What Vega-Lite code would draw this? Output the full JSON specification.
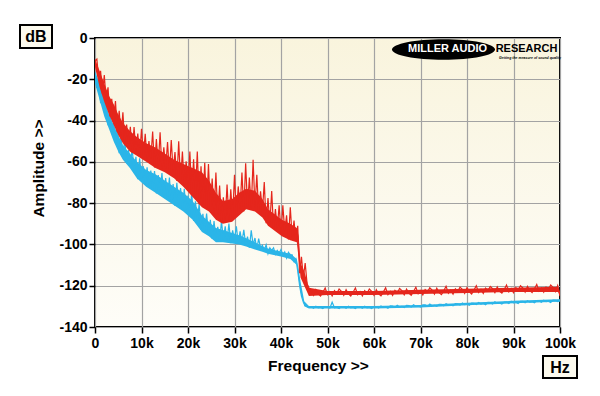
{
  "$schema": "https://vega.github.io/schema/vega-lite/v6.json",
  "width": 465,
  "height": 289,
  "autosize": "none",
  "padding": {"left": 95, "top": 38, "right": 40, "bottom": 69},
  "background": "#ffffff",
  "config": {
    "font": "Liberation Sans",
    "view": {
      "stroke": "#000000",
      "strokeWidth": 2,
      "fill": {"gradient": "linear", "x1": 0, "y1": 0, "x2": 0, "y2": 1, "stops": [{"offset": 0, "color": "#f9f4dd"}, {"offset": 1, "color": "#fefdf8"}]}
    },
    "axis": {
      "domain": false,
      "gridColor": "#a3a3a3",
      "gridWidth": 1.2,
      "gridOpacity": 1,
      "tickColor": "#000000",
      "tickWidth": 1.5,
      "tickSize": 6,
      "labelColor": "#000000",
      "labelFont": "Liberation Sans",
      "labelFontSize": 14,
      "labelFontWeight": "bold",
      "labelFlush": false,
      "labelOverlap": false,
      "titleColor": "#000000",
      "titleFont": "Liberation Sans",
      "titleFontSize": 15.5,
      "titleFontWeight": "bold"
    }
  },
  "datasets": {
    "band": [
      {"f":0,"rlo":-14,"rhi":-10,"clo":-22,"chi":-16},
      {"f":1000,"rlo":-24,"rhi":-16,"clo":-30,"chi":-22},
      {"f":2000,"rlo":-31,"rhi":-22,"clo":-38,"chi":-30},
      {"f":3000,"rlo":-37,"rhi":-28,"clo":-44,"chi":-37},
      {"f":4000,"rlo":-42,"rhi":-32,"clo":-50,"chi":-42},
      {"f":5000,"rlo":-47,"rhi":-37,"clo":-55,"chi":-47},
      {"f":6000,"rlo":-51,"rhi":-41,"clo":-59,"chi":-52},
      {"f":7500,"rlo":-55,"rhi":-45,"clo":-63,"chi":-56},
      {"f":9000,"rlo":-57,"rhi":-48,"clo":-68,"chi":-60},
      {"f":11000,"rlo":-60,"rhi":-51,"clo":-72,"chi":-64},
      {"f":13000,"rlo":-63,"rhi":-53,"clo":-75,"chi":-66},
      {"f":15000,"rlo":-65,"rhi":-56,"clo":-78,"chi":-69},
      {"f":17000,"rlo":-68,"rhi":-59,"clo":-81,"chi":-72},
      {"f":19000,"rlo":-72,"rhi":-61,"clo":-84,"chi":-75},
      {"f":21000,"rlo":-77,"rhi":-63,"clo":-88,"chi":-79},
      {"f":23000,"rlo":-82,"rhi":-65,"clo":-94,"chi":-86},
      {"f":24500,"rlo":-84,"rhi":-69,"clo":-96,"chi":-89},
      {"f":26000,"rlo":-88,"rhi":-75,"clo":-99,"chi":-92},
      {"f":27500,"rlo":-90,"rhi":-79,"clo":-99,"chi":-93},
      {"f":29500,"rlo":-89,"rhi":-78,"clo":-99.5,"chi":-94.5},
      {"f":31000,"rlo":-86,"rhi":-75,"clo":-100,"chi":-95.5},
      {"f":32500,"rlo":-83,"rhi":-73,"clo":-101,"chi":-97},
      {"f":34400,"rlo":-84,"rhi":-74,"clo":-102.5,"chi":-99},
      {"f":36000,"rlo":-87,"rhi":-78,"clo":-103.5,"chi":-101},
      {"f":37200,"rlo":-91,"rhi":-83,"clo":-104.5,"chi":-102},
      {"f":40200,"rlo":-96,"rhi":-88,"clo":-106,"chi":-103.7},
      {"f":42000,"rlo":-98,"rhi":-90,"clo":-107,"chi":-104.5},
      {"f":43400,"rlo":-99,"rhi":-92,"clo":-110,"chi":-107},
      {"f":43800,"rlo":-107,"rhi":-96,"clo":-117,"chi":-112},
      {"f":44200,"rlo":-116,"rhi":-109,"clo":-123,"chi":-118},
      {"f":45000,"rlo":-120,"rhi":-113,"clo":-130,"chi":-127.5},
      {"f":46000,"rlo":-125,"rhi":-121,"clo":-131,"chi":-129.8},
      {"f":50000,"rlo":-124.5,"rhi":-122.5,"clo":-131,"chi":-129.8},
      {"f":60000,"rlo":-124.5,"rhi":-122.5,"clo":-131,"chi":-129.8},
      {"f":70000,"rlo":-124,"rhi":-122,"clo":-130.5,"chi":-129.3},
      {"f":80000,"rlo":-123.5,"rhi":-121.5,"clo":-129.5,"chi":-128.3},
      {"f":90000,"rlo":-123,"rhi":-121,"clo":-128.5,"chi":-127.3},
      {"f":99600,"rlo":-123,"rhi":-120.5,"clo":-127.8,"chi":-126.6},
      {"f":100000,"rlo":-125,"rhi":-123,"clo":-127.8,"chi":-126.6}
    ],
    "spec": [
      {"f":0,"r":-11,"c":-17},{"f":400,"r":-10.2,"c":-24.2},{"f":800,"r":-20,"c":-20.8},{"f":1200,"r":-15.9,"c":-31.6},{"f":1600,"r":-27.2,"c":-25.6},
      {"f":2000,"r":-18,"c":-36},{"f":2400,"r":-30.4,"c":-31.4},{"f":2800,"r":-23.9,"c":-42.3},{"f":3200,"r":-38,"c":-34.4},{"f":3600,"r":-29.5,"c":-46.1},
      {"f":4000,"r":-40.5,"c":-40.8},{"f":4400,"r":-30.5,"c":-51},{"f":4800,"r":-45.5,"c":-42.2},{"f":5200,"r":-35.3,"c":-55.8},{"f":5600,"r":-47.4,"c":-47.8},
      {"f":6000,"r":-36,"c":-57},{"f":6400,"r":-51.1,"c":-49.3},{"f":6800,"r":-41.9,"c":-60.6},{"f":7200,"r":-51.2,"c":-54.3},{"f":7600,"r":-43,"c":-61.8},
      {"f":8000,"r":-55.7,"c":-53.4},{"f":8400,"r":-43.1,"c":-65},{"f":8800,"r":-55.2,"c":-57.6},{"f":9200,"r":-46.3,"c":-68.4},{"f":9600,"r":-57.4,"c":-58.3},
      {"f":10000,"r":-44,"c":-68},{"f":10400,"r":-57.1,"c":-62.1},{"f":10800,"r":-46.4,"c":-71.1},{"f":11200,"r":-59.3,"c":-62.6},{"f":11600,"r":-49.9,"c":-71.4},
      {"f":12000,"r":-58.5,"c":-64.2},{"f":12400,"r":-45.3,"c":-73.1},{"f":12800,"r":-62.7,"c":-64.4},{"f":13200,"r":-49,"c":-75.3},{"f":13600,"r":-62.1,"c":-66.4},
      {"f":14000,"r":-45.7,"c":-74.5},{"f":14400,"r":-63.9,"c":-65.4},{"f":14800,"r":-53,"c":-77.2},{"f":15200,"r":-63.3,"c":-67.8},{"f":15600,"r":-50.4,"c":-77.4},
      {"f":16000,"r":-65.5,"c":-67.6},{"f":16400,"r":-49.4,"c":-79.1},{"f":16800,"r":-64.7,"c":-70.7},{"f":17200,"r":-55.2,"c":-81.3},{"f":17600,"r":-69.2,"c":-70.2},
      {"f":18000,"r":-50,"c":-80.5},{"f":18400,"r":-69.3,"c":-72.7},{"f":18800,"r":-55,"c":-83.2},{"f":19200,"r":-72,"c":-73},{"f":19600,"r":-59.7,"c":-83.7},
      {"f":20000,"r":-72.5,"c":-76.3},{"f":20400,"r":-55,"c":-85.8},{"f":20800,"r":-75.5,"c":-74.7},{"f":21200,"r":-58.7,"c":-88.6},{"f":21600,"r":-75.5,"c":-79.1},
      {"f":22000,"r":-55,"c":-89},{"f":22400,"r":-80.5,"c":-80.3},{"f":22800,"r":-62.1,"c":-92.9},{"f":23200,"r":-80.8,"c":-85.2},{"f":23600,"r":-60.4,"c":-93.3},
      {"f":24000,"r":-82.8,"c":-85},{"f":24400,"r":-61.1,"c":-94.9},{"f":24800,"r":-82.8,"c":-88.1},{"f":25200,"r":-68.1,"c":-97.4},{"f":25600,"r":-86,"c":-88.7},
      {"f":26000,"r":-65.2,"c":-97},{"f":26400,"r":-85.5,"c":-91.5},{"f":26800,"r":-71.5,"c":-98.5},{"f":27200,"r":-89.6,"c":-88.7},{"f":27600,"r":-77.2,"c":-97.5},
      {"f":28000,"r":-88.3,"c":-91.2},{"f":28400,"r":-71,"c":-98.2},{"f":28800,"r":-88.9,"c":-89.9},{"f":29200,"r":-73.3,"c":-99.4},{"f":29600,"r":-86.8,"c":-93.2},
      {"f":30000,"r":-66.3,"c":-97.7},{"f":30400,"r":-86.2,"c":-91.2},{"f":30800,"r":-71.9,"c":-99.4},{"f":31200,"r":-82.6,"c":-93.7},{"f":31600,"r":-65.2,"c":-98.9},
      {"f":32000,"r":-84,"c":-92.9},{"f":32400,"r":-60.7,"c":-99.9},{"f":32800,"r":-81.7,"c":-96.2},{"f":33200,"r":-67.6,"c":-101.6},{"f":33600,"r":-83.1,"c":-93.2},
      {"f":34000,"r":-59,"c":-100.2},{"f":34400,"r":-82,"c":-96.9},{"f":34800,"r":-66.3,"c":-102.3},{"f":35200,"r":-84.5,"c":-97.2},{"f":35600,"r":-74.3,"c":-101.7},
      {"f":36000,"r":-84,"c":-100.4},{"f":36400,"r":-69.8,"c":-102.8},{"f":36800,"r":-89.7,"c":-100.2},{"f":37200,"r":-77.5,"c":-104.5},{"f":37600,"r":-90.2,"c":-101.6},
      {"f":38000,"r":-74.1,"c":-102.9},{"f":38400,"r":-92.5,"c":-101.7},{"f":38800,"r":-82.9,"c":-104.8},{"f":39200,"r":-92.3,"c":-102.9},{"f":39600,"r":-81,"c":-104.2},
      {"f":40000,"r":-94.7,"c":-102.5},{"f":40400,"r":-81,"c":-105.1},{"f":40800,"r":-93.7,"c":-103.6},{"f":41200,"r":-85.9,"c":-106.6},{"f":41600,"r":-97.6,"c":-103.8},
      {"f":42000,"r":-82,"c":-105},{"f":42400,"r":-96.8,"c":-105},{"f":42800,"r":-88.4,"c":-108.2},{"f":43200,"r":-98.4,"c":-107},{"f":43600,"r":-91,"c":-113},
      {"f":44000,"r":-114,"c":-120},{"f":44400,"r":-106,"c":-125},{"f":44800,"r":-116,"c":-128},{"f":45200,"r":-109,"c":-129.5},{"f":45600,"r":-119,"c":-130},
      {"f":46000,"r":-121,"c":-130.5},
      {"f":46500,"r":-122.7,"c":-130.2},{"f":47000,"r":-124.7,"c":-130.9},{"f":47500,"r":-121.9,"c":-129.9},{"f":48000,"r":-124.0,"c":-130.7},{"f":48500,"r":-125.0,"c":-130.5},
      {"f":49000,"r":-123.2,"c":-131.1},{"f":49500,"r":-121.1,"c":-130.1},{"f":50000,"r":-124.4,"c":-130.2},{"f":50500,"r":-122.9,"c":-130.9},{"f":51000,"r":-124.9,"c":-128.0},
      {"f":51500,"r":-122.4,"c":-130.7},{"f":52000,"r":-123.7,"c":-130.5},{"f":52500,"r":-121.6,"c":-131.1},{"f":53000,"r":-122.7,"c":-130.1},{"f":53500,"r":-124.7,"c":-130.2},
      {"f":54000,"r":-121.9,"c":-130.9},{"f":54500,"r":-124.0,"c":-129.9},{"f":55000,"r":-125.0,"c":-130.7},{"f":55500,"r":-123.2,"c":-130.5},{"f":56000,"r":-121.1,"c":-131.1},
      {"f":56500,"r":-124.4,"c":-130.1},{"f":57000,"r":-122.9,"c":-130.2},{"f":57500,"r":-124.9,"c":-130.9},{"f":58000,"r":-122.4,"c":-129.9},{"f":58500,"r":-123.7,"c":-130.7},
      {"f":59000,"r":-121.6,"c":-130.5},{"f":59500,"r":-122.7,"c":-131.1},{"f":60000,"r":-124.7,"c":-130.1},{"f":60500,"r":-121.9,"c":-130.2},{"f":61000,"r":-124.0,"c":-130.8},
      {"f":61500,"r":-124.9,"c":-129.8},{"f":62000,"r":-123.1,"c":-130.5},{"f":62500,"r":-121.0,"c":-130.3},{"f":63000,"r":-124.3,"c":-130.9},{"f":63500,"r":-122.7,"c":-129.8},
      {"f":64000,"r":-124.7,"c":-129.9},{"f":64500,"r":-122.2,"c":-130.5},{"f":65000,"r":-123.5,"c":-129.5},{"f":65500,"r":-121.3,"c":-130.3},{"f":66000,"r":-122.4,"c":-130.0},
      {"f":66500,"r":-124.4,"c":-130.6},{"f":67000,"r":-121.6,"c":-129.5},{"f":67500,"r":-123.6,"c":-129.6},{"f":68000,"r":-124.6,"c":-130.3},{"f":68500,"r":-122.8,"c":-129.2},
      {"f":69000,"r":-120.7,"c":-130.0},{"f":69500,"r":-123.9,"c":-129.7},{"f":70000,"r":-122.4,"c":-130.3},{"f":70500,"r":-124.4,"c":-129.3},{"f":71000,"r":-121.9,"c":-129.3},
      {"f":71500,"r":-123.1,"c":-130.0},{"f":72000,"r":-121.0,"c":-128.9},{"f":72500,"r":-122.1,"c":-129.7},{"f":73000,"r":-124.1,"c":-129.5},{"f":73500,"r":-121.2,"c":-130.0},
      {"f":74000,"r":-123.3,"c":-129.0},{"f":74500,"r":-124.3,"c":-129.0},{"f":75000,"r":-122.5,"c":-129.7},{"f":75500,"r":-120.3,"c":-128.7},{"f":76000,"r":-123.6,"c":-129.4},
      {"f":76500,"r":-122.1,"c":-129.2},{"f":77000,"r":-124.1,"c":-129.7},{"f":77500,"r":-121.5,"c":-128.7},{"f":78000,"r":-122.8,"c":-128.8},{"f":78500,"r":-120.7,"c":-129.4},
      {"f":79000,"r":-121.8,"c":-128.4},{"f":79500,"r":-123.7,"c":-129.1},{"f":80000,"r":-120.9,"c":-128.9},{"f":80500,"r":-123.0,"c":-129.5},{"f":81000,"r":-124.0,"c":-128.4},
      {"f":81500,"r":-122.1,"c":-128.5},{"f":82000,"r":-120.0,"c":-129.1},{"f":82500,"r":-123.3,"c":-128.1},{"f":83000,"r":-121.8,"c":-128.9},{"f":83500,"r":-123.7,"c":-128.6},
      {"f":84000,"r":-121.2,"c":-129.2},{"f":84500,"r":-122.5,"c":-128.1},{"f":85000,"r":-120.4,"c":-128.2},{"f":85500,"r":-121.4,"c":-128.9},{"f":86000,"r":-123.4,"c":-127.8},
      {"f":86500,"r":-120.6,"c":-128.6},{"f":87000,"r":-122.7,"c":-128.3},{"f":87500,"r":-123.6,"c":-128.9},{"f":88000,"r":-121.8,"c":-127.9},{"f":88500,"r":-119.7,"c":-127.9},
      {"f":89000,"r":-123.0,"c":-128.6},{"f":89500,"r":-121.4,"c":-127.5},{"f":90000,"r":-123.4,"c":-128.3},{"f":90500,"r":-120.9,"c":-128.1},{"f":91000,"r":-122.2,"c":-128.6},
      {"f":91500,"r":-120.0,"c":-127.6},{"f":92000,"r":-121.1,"c":-127.6},{"f":92500,"r":-123.1,"c":-128.3},{"f":93000,"r":-120.3,"c":-127.3},{"f":93500,"r":-122.3,"c":-128.0},
      {"f":94000,"r":-123.3,"c":-127.8},{"f":94500,"r":-121.5,"c":-128.3},{"f":95000,"r":-119.4,"c":-127.3},{"f":95500,"r":-122.6,"c":-127.4},{"f":96000,"r":-121.1,"c":-128.0},
      {"f":96500,"r":-123.1,"c":-127.0},{"f":97000,"r":-120.6,"c":-127.7},{"f":97500,"r":-121.8,"c":-127.5},{"f":98000,"r":-119.7,"c":-128.1},{"f":98500,"r":-120.8,"c":-127.0},
      {"f":99000,"r":-122.8,"c":-127.1},{"f":99500,"r":-119.9,"c":-127.7},{"f":100000,"r":-125.0,"c":-127.0}
    ]
  },
  "layer": [
    {
      "data": {"name": "band"},
      "mark": {"type": "area", "color": "#2bb5e8", "opacity": 1, "clip": true},
      "encoding": {
        "x": {
          "field": "f", "type": "quantitative",
          "scale": {"domain": [0, 100000], "nice": false},
          "axis": {
            "values": [0, 10000, 20000, 30000, 40000, 50000, 60000, 70000, 80000, 90000, 100000],
            "labelExpr": "datum.value == 0 ? '0' : (datum.value / 1000) + 'k'",
            "labelPadding": 3,
            "title": "Frequency >>",
            "titlePadding": 8,
            "titleX": 223
          }
        },
        "y": {
          "field": "clo", "type": "quantitative",
          "scale": {"domain": [-140, 0], "nice": false},
          "axis": {
            "values": [0, -20, -40, -60, -80, -100, -120, -140],
            "labelExpr": "datum.value == 0 ? '0' : '-' + abs(datum.value)",
            "labelPadding": 2,
            "title": "Amplitude >>",
            "titlePadding": 12,
            "titleY": 130
          }
        },
        "y2": {"field": "chi"}
      }
    },
    {
      "data": {"name": "spec"},
      "mark": {"type": "line", "color": "#2bb5e8", "strokeWidth": 1.2, "clip": true},
      "encoding": {
        "x": {"field": "f", "type": "quantitative"},
        "y": {"field": "c", "type": "quantitative"}
      }
    },
    {
      "data": {"name": "band"},
      "mark": {"type": "area", "color": "#e5261c", "opacity": 1, "clip": true},
      "encoding": {
        "x": {"field": "f", "type": "quantitative"},
        "y": {"field": "rlo", "type": "quantitative"},
        "y2": {"field": "rhi"}
      }
    },
    {
      "data": {"name": "spec"},
      "mark": {"type": "line", "color": "#e5261c", "strokeWidth": 1.2, "clip": true},
      "encoding": {
        "x": {"field": "f", "type": "quantitative"},
        "y": {"field": "r", "type": "quantitative"}
      }
    },
    {
      "data": {"values": [{"name": "logo"}]},
      "mark": {"type": "point", "shape": "M -1 0 A 1 0.2 0 1 1 1 0 A 1 0.2 0 1 1 -1 0 Z", "size": 10609, "filled": true, "color": "#000000", "opacity": 1},
      "encoding": {
        "x": {"datum": 74946, "type": "quantitative"},
        "y": {"datum": -5.57, "type": "quantitative"}
      }
    },
    {
      "data": {"values": [{"t": "MILLER AUDIO"}]},
      "mark": {"type": "text", "font": "Liberation Sans", "fontWeight": "bold", "fontSize": 11, "color": "#ffffff", "baseline": "middle", "align": "center"},
      "encoding": {
        "x": {"datum": 75806, "type": "quantitative"},
        "y": {"datum": -5.33, "type": "quantitative"},
        "text": {"field": "t"}
      }
    },
    {
      "data": {"values": [{"t": "RESEARCH"}]},
      "mark": {"type": "text", "font": "Liberation Sans", "fontWeight": "bold", "fontSize": 11, "color": "#000000", "baseline": "middle", "align": "center"},
      "encoding": {
        "x": {"datum": 92796, "type": "quantitative"},
        "y": {"datum": -5.33, "type": "quantitative"},
        "text": {"field": "t"}
      }
    },
    {
      "data": {"values": [{"t": "Getting the measure of sound quality"}]},
      "mark": {"type": "text", "font": "Liberation Sans", "fontWeight": "bold", "fontStyle": "italic", "fontSize": 3.5, "color": "#000000", "baseline": "middle", "align": "center"},
      "encoding": {
        "x": {"datum": 93548, "type": "quantitative"},
        "y": {"datum": -9.69, "type": "quantitative"},
        "text": {"field": "t"}
      }
    },
    {
      "data": {"values": [{"t": "dB"}]},
      "mark": {"type": "rect", "fill": "#fcfaee", "stroke": "#000000", "strokeWidth": 2, "clip": false},
      "encoding": {
        "x": {"datum": -16129, "type": "quantitative"},
        "x2": {"datum": -9247},
        "y": {"datum": 6.3, "type": "quantitative"},
        "y2": {"datum": -4.84}
      }
    },
    {
      "data": {"values": [{"t": "dB"}]},
      "mark": {"type": "text", "font": "Liberation Sans", "fontWeight": "bold", "fontSize": 16, "color": "#000000", "baseline": "middle", "align": "center", "dy": 1},
      "encoding": {
        "x": {"datum": -12688, "type": "quantitative"},
        "y": {"datum": 0.73, "type": "quantitative"},
        "text": {"field": "t"}
      }
    },
    {
      "data": {"values": [{"t": "Hz"}]},
      "mark": {"type": "rect", "fill": "#fcfaee", "stroke": "#000000", "strokeWidth": 2, "clip": false},
      "encoding": {
        "x": {"datum": 96344, "type": "quantitative"},
        "x2": {"datum": 103656},
        "y": {"datum": -154.0, "type": "quantitative"},
        "y2": {"datum": -164.7}
      }
    },
    {
      "data": {"values": [{"t": "Hz"}]},
      "mark": {"type": "text", "font": "Liberation Sans", "fontWeight": "bold", "fontSize": 16, "color": "#000000", "baseline": "middle", "align": "center", "dy": 1},
      "encoding": {
        "x": {"datum": 100000, "type": "quantitative"},
        "y": {"datum": -159.4, "type": "quantitative"},
        "text": {"field": "t"}
      }
    }
  ]
}
